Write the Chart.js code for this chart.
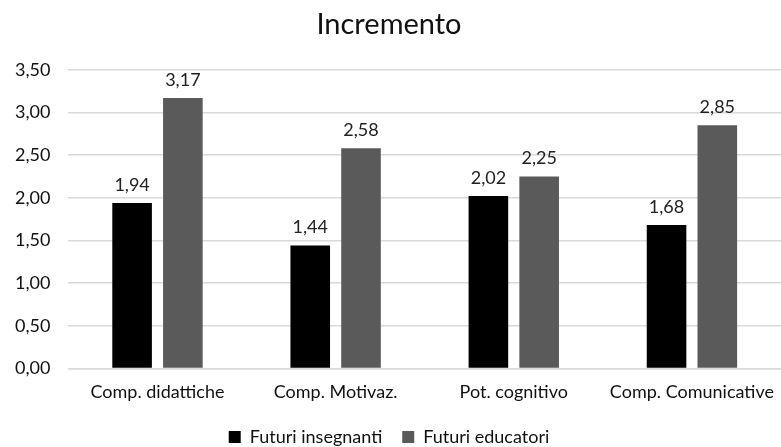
<!DOCTYPE html>
<html>
<head>
<meta charset="utf-8">
<script src="https://cdn.jsdelivr.net/npm/chart.js@4/dist/chart.umd.min.js"></script>
<style>
html,body{margin:0;padding:0;background:#fff;}
#wrap{width:781px;height:447px;position:relative;}
</style>
</head>
<body>
<div id="wrap"><canvas id="c"></canvas></div>
<script>
const categories = ["Comp. didattiche", "Comp. Motivaz.", "Pot. cognitivo", "Comp. Comunicative"];
const futuriInsegnanti = [1.94, 1.44, 2.02, 1.68];
const futuriEducatori = [3.17, 2.58, 2.25, 2.85];
const seriesNames = ["Futuri insegnanti", "Futuri educatori"];
const titleText = "Incremento";

const fmt = v => v.toFixed(2).replace('.', ',');
const FONT = "Lato, 'Open Sans', sans-serif";

const valueLabels = {
  id: 'valueLabels',
  afterDatasetsDraw(chart) {
    const ctx = chart.ctx;
    ctx.save();
    ctx.font = "18px " + FONT;
    ctx.fillStyle = "#222";
    ctx.textAlign = "center";
    ctx.textBaseline = "bottom";
    chart.data.datasets.forEach((ds, i) => {
      const meta = chart.getDatasetMeta(i);
      meta.data.forEach((bar, j) => {
        ctx.fillText(fmt(ds.data[j]), bar.x, bar.y - 9);
      });
    });
    ctx.restore();
  }
};

new Chart(document.getElementById('c'), {
  type: 'bar',
  data: {
    labels: categories,
    datasets: [
      {label: seriesNames[0], data: futuriInsegnanti, backgroundColor: '#000000', categoryPercentage: 0.57, barPercentage: 0.78},
      {label: seriesNames[1], data: futuriEducatori, backgroundColor: '#5a5a5a', categoryPercentage: 0.57, barPercentage: 0.78}
    ]
  },
  options: {
    responsive: true,
    maintainAspectRatio: false,
    animation: false,
    layout: {padding: {left: -3, right: 0, top: 0, bottom: -9}},
    plugins: {
      title: {display: true, text: titleText, color: '#111', font: {family: FONT, size: 29, weight: 'normal'}, padding: {top: 7, bottom: 28}},
      legend: {
        position: 'bottom',
        labels: {color: '#111', font: {family: FONT, size: 18}, boxWidth: 12, boxHeight: 12, padding: 20}
      },
      tooltip: {enabled: false}
    },
    scales: {
      x: {
        grid: {display: false},
        border: {display: true, color: '#d9d9d9', width: 1.5},
        ticks: {color: '#111', font: {family: FONT, size: 18}, padding: 5, maxRotation: 0, autoSkip: false}
      },
      y: {
        min: 0, max: 3.5,
        ticks: {stepSize: 0.5, color: '#111', font: {family: FONT, size: 18}, padding: 18, callback: v => fmt(v)},
        grid: {color: '#d9d9d9', lineWidth: 1.5, drawTicks: false},
        border: {display: false}
      }
    }
  },
  plugins: [valueLabels]
});
</script>
</body>
</html>
